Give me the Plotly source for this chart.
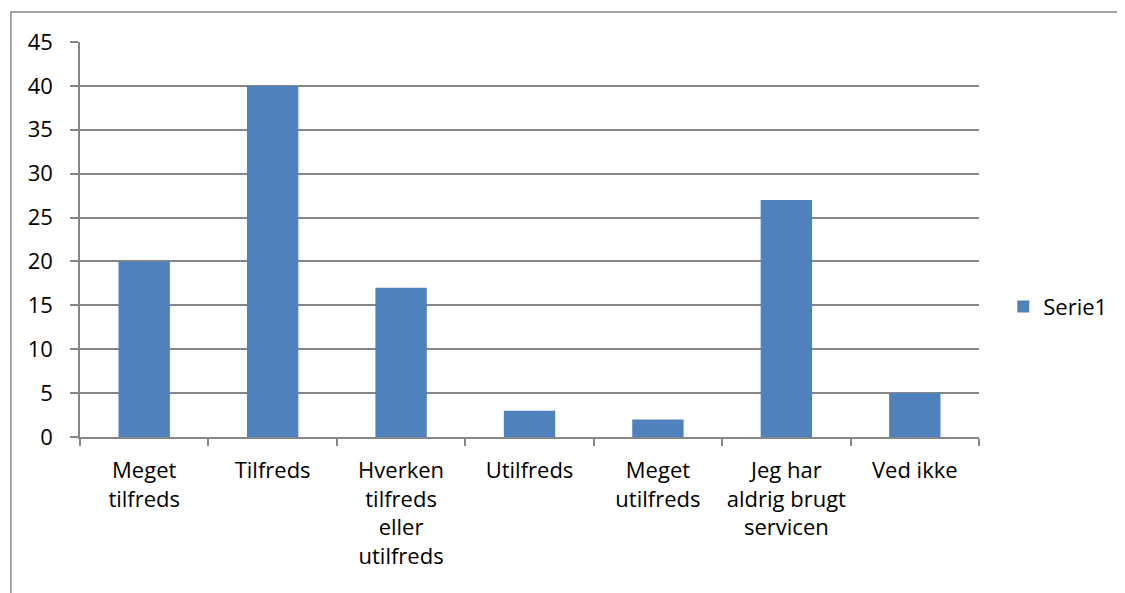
import plotly.graph_objects as go

categories = ["Meget<br>tilfreds", "Tilfreds", "Hverken<br>tilfreds<br>eller<br>utilfreds",
              "Utilfreds", "Meget<br>utilfreds", "Jeg har<br>aldrig brugt<br>servicen", "Ved ikke"]
values = [20, 40, 17, 3, 2, 27, 5]
series_name = "Serie1"

BLUE = "#4f81bd"
GRAY = "#868686"
FONT = "Open Sans"

fig = go.Figure()
fig.add_trace(go.Bar(x=categories, y=values, name=series_name,
                     marker=dict(color=BLUE, line=dict(width=0))))

# page body adds an 8px offset, so margins are shifted by that amount
fig.update_layout(
    width=1125, height=593,
    margin=dict(l=72, r=154, t=34, b=164, autoexpand=False),
    plot_bgcolor="white", paper_bgcolor="white",
    font=dict(family=FONT, size=22, color="black"),
    bargap=0.6,
    showlegend=True,
    legend=dict(x=1.027, y=0.33, xanchor="left", yanchor="middle",
                font=dict(size=22), itemwidth=30),
    # outer chart border
    shapes=[dict(type="rect", xref="paper", yref="paper",
                 x0=-0.0768, x1=1.17, y0=-0.42, y1=1.076,
                 line=dict(color=GRAY, width=1.5), layer="below")],
)

fig.update_xaxes(
    type="category", showline=True, linecolor=GRAY, linewidth=1.5,
    ticks="outside", tickson="boundaries", ticklen=7, tickcolor=GRAY,
    tickwidth=1.5, showgrid=False, tickangle=0, ticklabelstandoff=13,
    automargin=False,
)
fig.update_yaxes(
    range=[0, 45], dtick=5, showline=True, linecolor=GRAY, linewidth=1.5,
    ticks="outside", ticklen=8, tickcolor=GRAY, tickwidth=1.5,
    showgrid=True, gridcolor=GRAY, gridwidth=1.5, zeroline=False,
    ticklabelstandoff=13, automargin=False,
)

fig.write_html("out.html")
